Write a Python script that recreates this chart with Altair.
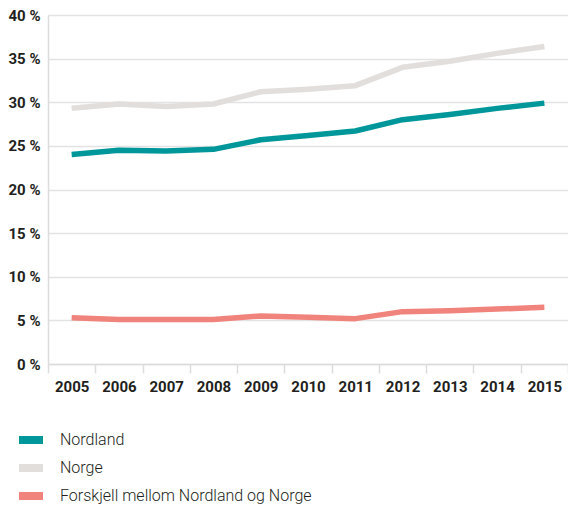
import altair as alt
import pandas as pd

years = [str(y) for y in range(2005, 2016)]
nordland = [24.0, 24.5, 24.4, 24.6, 25.7, 26.2, 26.7, 28.0, 28.6, 29.3, 29.9]
norge = [29.3, 29.8, 29.5, 29.8, 31.2, 31.5, 31.9, 34.0, 34.7, 35.6, 36.4]
forskjell = [5.3, 5.1, 5.1, 5.1, 5.5, 5.35, 5.2, 6.0, 6.1, 6.3, 6.5]
series_names = ["Nordland", "Norge", "Forskjell mellom Nordland og Norge"]
series_colors = ["#00979b", "#e2dedb", "#f0837b"]

rows = []
for name, vals in zip(series_names, [nordland, norge, forskjell]):
    for y, v in zip(years, vals):
        rows.append({"year": y, "value": v, "series": name})
df = pd.DataFrame(rows)

chart = alt.Chart(df).mark_line(strokeWidth=5.5, strokeJoin="round").encode(
    x=alt.X("year:N", bandPosition=0.5,
            scale=alt.Scale(type="band", domain=years, paddingInner=0, paddingOuter=0),
            axis=alt.Axis(title=None, labelAngle=0, tickBand="extent", grid=False,
                          domain=True, domainColor="#dcdcdc", domainWidth=1.5,
                          ticks=True, tickColor="#dcdcdc", tickSize=9, tickWidth=1.5,
                          labelFont="Roboto", labelFontSize=15, labelFontWeight="bold",
                          labelColor="#231f20", labelPadding=6)),
    y=alt.Y("value:Q", scale=alt.Scale(domain=[0, 40]),
            axis=alt.Axis(title=None, values=[0, 5, 10, 15, 20, 25, 30, 35, 40],
                          labelExpr="datum.value + ' %'", grid=True, gridColor="#e3e3e3",
                          gridWidth=1.5, domain=True, domainColor="#dcdcdc", domainWidth=1.5,
                          ticks=False, labelFont="Roboto", labelFontSize=15,
                          labelFontWeight="bold", labelColor="#231f20", labelPadding=8)),
    color=alt.Color("series:N", scale=alt.Scale(domain=series_names, range=series_colors),
                    legend=alt.Legend(title=None, orient="none", legendX=-29, legendY=411,
                                      padding=0, offset=0, clipHeight=28,
                                      symbolType="M-4,0H4", symbolStrokeWidth=8,
                                      symbolSize=64, labelFont="Roboto", labelFontSize=16,
                                      labelFontWeight=300, labelColor="#231f20",
                                      labelLimit=400, rowPadding=0, labelOffset=25)),
).properties(
    width=520, height=349,
    autosize=alt.AutoSizeParams(type="none"),
    padding={"left": 40, "top": 7, "right": 0, "bottom": 140},
).configure_view(stroke=None)

chart.save("out.html", embed_options={"renderer": "svg", "actions": False})
